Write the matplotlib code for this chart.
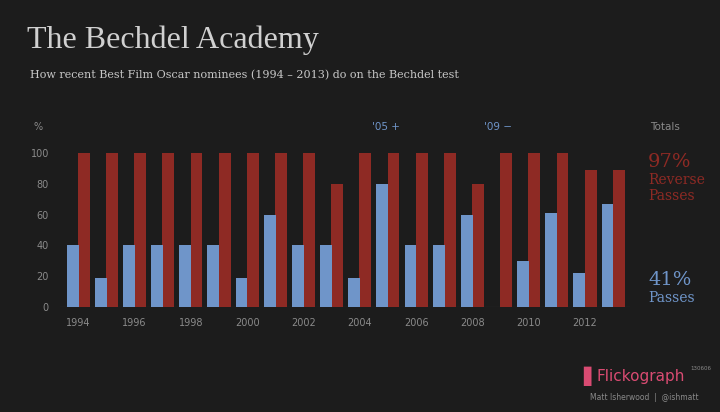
import numpy as np
import matplotlib
matplotlib.use("Agg")
import matplotlib.pyplot as plt

years = list(range(1994, 2014))
passes = [40, 19, 40, 40, 40, 40, 19, 60, 40, 40, 19, 80, 40, 40, 60, 0, 30, 61, 22, 67]
reverse = [100, 100, 100, 100, 100, 100, 100, 100, 100, 80, 100, 100, 100, 100, 80, 100, 100, 100, 89, 89]
yticks = [0, 20, 40, 60, 80, 100]

bg = "#1c1c1c"
red = "#8e2a24"
blue = "#6f95c9"
grey = "#8a8a8a"

fig = plt.figure(figsize=(7.2, 4.12), dpi=100, facecolor=bg)
ax = fig.add_axes([60 / 720, 1 - 307 / 412, 570 / 720, 154 / 412], facecolor=bg)

x = np.array(years)
ax.bar(x + 0.2, reverse, width=0.42, color=red, zorder=2)
ax.bar(x - 0.2, passes, width=0.42, color=blue, zorder=3)

ax.set_xlim(1993.35, 2013.6)
ax.set_ylim(0, 100)
ax.set_yticks(yticks)
ax.set_xticks(years[::2])
ax.tick_params(colors=grey, labelsize=7, length=0, pad=8)
for s in ax.spines.values():
    s.set_visible(False)
ax.axhline(0, color="#444444", lw=0.8, zorder=1)

fig.text(27 / 720, 1 - 40 / 412, "The Bechdel Academy", color="#d0d0d0",
         fontsize=23, family="Liberation Serif", va="center")
fig.text(30 / 720, 1 - 75 / 412,
         "How recent Best Film Oscar nominees (1994 \u2013 2013) do on the Bechdel test",
         color="#c8c8c8", fontsize=8, family="DejaVu Serif", va="center")
fig.text(33 / 720, 1 - 127 / 412, "%", color=grey, fontsize=7, va="center")
fig.text(372 / 720, 1 - 127 / 412, "'05 +", color=blue, fontsize=7.5, va="center")
fig.text(484 / 720, 1 - 127 / 412, "'09 \u2212", color=blue, fontsize=7.5, va="center")
fig.text(650 / 720, 1 - 127 / 412, "Totals", color=grey, fontsize=7.5, va="center")
fig.text(648 / 720, 1 - 162 / 412, "97%", color=red, fontsize=14, family="DejaVu Serif", va="center")
fig.text(648 / 720, 1 - 188 / 412, "Reverse\nPasses", color=red, fontsize=10, family="DejaVu Serif",
         va="center", linespacing=1.1)
fig.text(648 / 720, 1 - 280 / 412, "41%", color=blue, fontsize=14, family="DejaVu Serif", va="center")
fig.text(648 / 720, 1 - 298 / 412, "Passes", color=blue, fontsize=10, family="DejaVu Serif", va="center")
fig.text(583 / 720, 1 - 376 / 412, "\u258c", color="#d94b72", fontsize=14, va="center")
fig.text(597 / 720, 1 - 376 / 412, "Flickograph", color="#d94b72", fontsize=11, va="center")
fig.text(690 / 720, 1 - 368 / 412, "130606", color=grey, fontsize=4, va="center")
fig.text(590 / 720, 1 - 397 / 412, "Matt Isherwood  |  @ishmatt", color=grey, fontsize=5.5, va="center")

fig.savefig("out.png", dpi=100, facecolor=bg)
